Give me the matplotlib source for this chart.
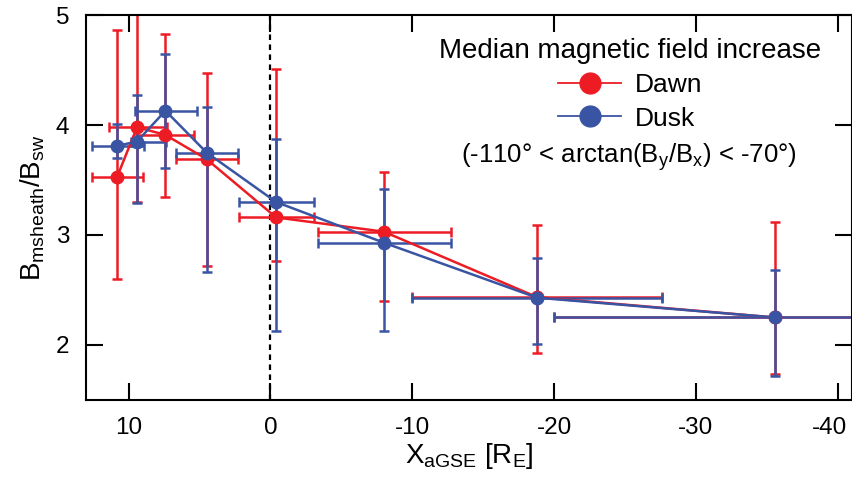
import matplotlib
matplotlib.use("Agg")
import matplotlib.pyplot as plt
import matplotlib.transforms as mtransforms
from matplotlib.lines import Line2D

plt.rcParams["font.family"] = ["Liberation Sans", "DejaVu Sans"]
plt.rcParams["mathtext.default"] = "regular"
plt.rcParams["axes.unicode_minus"] = False

red = "#ED1C24"
blue = "#3A54A4"

# X_aGSE position of each bin (R_E)
x_pos = [10.8, 9.4, 7.4, 4.5, -0.4, -8.0, -18.8, -35.6]

# Dawn
dawn_y = [3.53, 3.98, 3.91, 3.69, 3.16, 3.03, 2.435, 2.25]
dawn_ylo = [2.60, 3.30, 3.35, 2.72, 2.76, 2.40, 1.93, 1.74]
dawn_yhi = [4.86, 5.14, 4.83, 4.47, 4.51, 3.57, 3.09, 3.12]
dawn_xlo = [12.65, 11.5, 9.45, 6.7, 2.25, -3.3, -9.96, -20.0]
dawn_xhi = [9.0, 7.4, 5.35, 2.35, -3.0, -12.65, -27.6, -51.2]

# Dusk
dusk_y = [3.81, 3.85, 4.13, 3.75, 3.30, 2.93, 2.43, 2.25]
dusk_ylo = [3.70, 3.29, 3.61, 2.66, 2.13, 2.13, 2.01, 1.72]
dusk_yhi = [4.01, 4.27, 4.65, 4.16, 3.87, 3.42, 2.79, 2.68]
dusk_xlo = [12.66, 11.47, 9.63, 6.7, 2.25, -3.3, -9.96, -20.0]
dusk_xhi = [9.02, 9.0, 5.29, 2.35, -3.0, -12.65, -27.6, -51.2]

xticks = [10, 0, -10, -20, -30, -40]
yticks = [2, 3, 4, 5]


def errs(c, lo, hi):
    return [[abs(ci - l) for ci, l in zip(c, lo)], [abs(h - ci) for ci, h in zip(c, hi)]]


def main():
    fig = plt.figure(figsize=(8.53, 4.78), dpi=100)
    ax = fig.add_axes([0.1008, 0.1632, 0.8980, 0.8054])

    ax.axvline(0, color="k", linestyle=(0, (2.5, 2)), linewidth=1.6, zorder=1)

    for y, ylo, yhi, xlo, xhi, color in [
        (dawn_y, dawn_ylo, dawn_yhi, dawn_xlo, dawn_xhi, red),
        (dusk_y, dusk_ylo, dusk_yhi, dusk_xlo, dusk_xhi, blue),
    ]:
        xe = errs(x_pos, xlo, xhi)
        ax.errorbar(
            x_pos, y,
            yerr=errs(y, ylo, yhi), xerr=xe,
            color=color, linewidth=1.8, elinewidth=1.8,
            marker="o", markersize=9, capsize=3.8, capthick=1.8,
        )

    ax.set_xlim(13, -41)
    ax.set_ylim(1.5, 5)
    ax.set_xticks(xticks)
    ax.set_yticks(yticks)
    ax.tick_params(direction="in", length=12, width=1.5, top=True, right=True,
                   labelsize=17.5, pad=12)
    for s in ax.spines.values():
        s.set_linewidth(1.5)

    # last x tick label sits right at the figure edge: nudge it left a little
    last = ax.xaxis.get_major_ticks()[-1].label1
    last.set_transform(last.get_transform()
                       + mtransforms.ScaledTranslation(-6 / 72, 0, fig.dpi_scale_trans))

    ax.set_xlabel(r"X$_{aGSE}$ [R$_E$]", fontsize=20, labelpad=2)
    ax.set_ylabel(r"B$_{msheath}$/B$_{sw}$", fontsize=20, labelpad=6)

    handles = [
        Line2D([0], [0], color=red, marker="o", markersize=15, linewidth=1.3),
        Line2D([0], [0], color=blue, marker="o", markersize=15, linewidth=1.3),
    ]
    fig.legend(
        handles, ["Dawn", "Dusk"], loc="upper center",
        bbox_to_anchor=(630 / 853, 1 - 25 / 478),
        frameon=False, fontsize=19, title="Median magnetic field increase",
        title_fontsize=20, handlelength=2.4, handletextpad=0.5,
        labelspacing=0.35, borderpad=0,
    )
    fig.text(629 / 853, 1 - 157 / 478, r"(-110° < arctan(B$_y$/B$_x$) < -70°)",
             fontsize=18.5, ha="center", va="center")

    fig.savefig("out.png", dpi=100)


if __name__ == "__main__":
    main()
